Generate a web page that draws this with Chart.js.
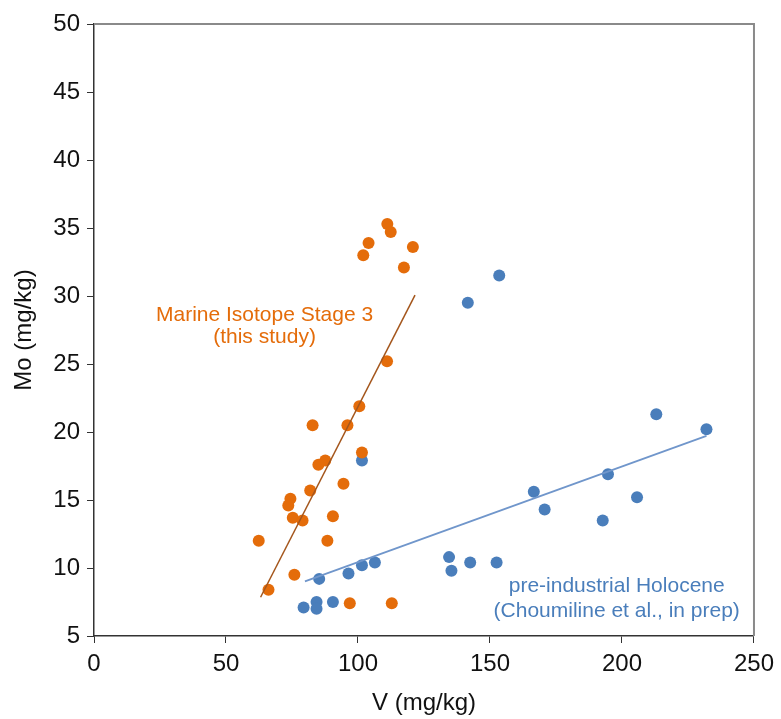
<!DOCTYPE html>
<html>
<head>
<meta charset="utf-8">
<script src="https://cdn.jsdelivr.net/npm/chart.js@4.4.0/dist/chart.umd.min.js"></script>
<style>
    body { margin: 0; background: #fff; }
    canvas { display: block; }
</style>
</head>
<body>
<canvas id="moV" width="781" height="719"></canvas>
<script>
// Marine Isotope Stage 3 samples (this study)
const marineV  = [82.8, 96.0, 101.5, 87.6, 85.0, 94.5, 81.9, 74.4, 73.6, 75.3, 79.0, 90.5, 62.4,
                  88.4, 75.9, 66.1, 96.9, 112.8, 111.1, 112.4, 104.0, 102.0, 120.8, 117.4, 111.0, 100.5];
const marineMo = [20.5, 20.5, 18.5, 17.9, 17.6, 16.2, 15.7, 15.1, 14.6, 13.7, 13.5, 13.8, 12.0,
                  12.0, 9.5, 8.4, 7.4, 7.4, 35.3, 34.7, 33.9, 33.0, 33.6, 32.1, 25.2, 21.9];

// pre-industrial Holocene samples
const holoceneV  = [101.5, 85.3, 96.4, 101.5, 106.4, 79.4, 84.3, 84.3, 90.5, 141.6, 153.5,
                    213.0, 232.0, 194.7, 205.7, 166.6, 170.7, 192.7, 134.5, 135.4, 142.5, 152.5];
const holoceneMo = [17.9, 9.2, 9.6, 10.2, 10.4, 7.1, 7.5, 7.0, 7.5, 29.5, 31.5,
                    21.3, 20.2, 16.9, 15.2, 15.6, 14.3, 13.5, 10.8, 9.8, 10.4, 10.4];

// linear fits (end points)
const marineFitV    = [63.1, 121.6];
const marineFitMo   = [7.85, 30.07];
const holoceneFitV  = [79.9, 232.0];
const holoceneFitMo = [9.02, 19.71];

const xTicks = [0, 50, 100, 150, 200, 250];
const yTicks = [5, 10, 15, 20, 25, 30, 35, 40, 45, 50];

const ORANGE = '#E46C0A';
const BLUE = '#4A7EBB';
const FONT = '"Liberation Sans", Arial, sans-serif';

const toPoints = (xs, ys) => xs.map((x, i) => ({x: x, y: ys[i]}));

// series labels, anchored in data units
const notes = [
    {x: 64.6, y: 28.6, text: 'Marine Isotope Stage 3', color: ORANGE},
    {x: 64.6, y: 26.95, text: '(this study)', color: ORANGE},
    {x: 198.0, y: 8.63, text: 'pre-industrial Holocene', color: BLUE},
    {x: 198.0, y: 6.86, text: '(Choumiline et al., in prep)', color: BLUE}
];

const frameAndNotes = {
    id: 'frameAndNotes',
    beforeDraw(chart) {
        const {ctx} = chart;
        ctx.save();
        ctx.fillStyle = '#fff';
        ctx.fillRect(0, 0, chart.width, chart.height);
        ctx.restore();
    },
    beforeDatasetsDraw(chart) {
        const {ctx, chartArea: a} = chart;
        ctx.save();
        ctx.strokeStyle = '#8a8a8a';
        ctx.lineWidth = 2;
        ctx.beginPath();
        ctx.moveTo(a.left, a.top);
        ctx.lineTo(a.right, a.top);
        ctx.lineTo(a.right, a.bottom);
        ctx.stroke();
        ctx.restore();
    },
    afterDatasetsDraw(chart) {
        const {ctx, scales} = chart;
        ctx.save();
        ctx.font = '21px ' + FONT;
        ctx.textAlign = 'center';
        ctx.textBaseline = 'middle';
        notes.forEach(n => {
            ctx.fillStyle = n.color;
            ctx.fillText(n.text, scales.x.getPixelForValue(n.x), scales.y.getPixelForValue(n.y));
        });
        ctx.restore();
    }
};

new Chart(document.getElementById('moV').getContext('2d'), {
    type: 'scatter',
    data: {
        datasets: [
            {
                type: 'line',
                data: toPoints(marineFitV, marineFitMo),
                borderColor: '#A4561C',
                borderWidth: 1.5,
                pointRadius: 0,
                fill: false
            },
            {
                type: 'line',
                data: toPoints(holoceneFitV, holoceneFitMo),
                borderColor: '#7096CB',
                borderWidth: 1.8,
                pointRadius: 0,
                fill: false
            },
            {
                data: toPoints(marineV, marineMo),
                backgroundColor: ORANGE,
                borderWidth: 0,
                pointRadius: 6
            },
            {
                data: toPoints(holoceneV, holoceneMo),
                backgroundColor: BLUE,
                borderWidth: 0,
                pointRadius: 6
            }
        ]
    },
    options: {
        responsive: false,
        animation: false,
        layout: {padding: {top: 24, right: 25, left: 0, bottom: 0}},
        plugins: {
            legend: {display: false},
            tooltip: {enabled: false}
        },
        scales: {
            x: {
                type: 'linear',
                min: 0,
                max: 250,
                afterBuildTicks: s => { s.ticks = xTicks.map(v => ({value: v})); },
                afterFit: s => { s.height = 83; },
                grid: {drawOnChartArea: false, tickLength: 7, color: '#333', lineWidth: 1},
                border: {color: '#333', width: 1.5},
                ticks: {color: '#111', padding: 7, font: {family: FONT, size: 24}},
                title: {
                    display: true,
                    text: 'V (mg/kg)',
                    color: '#111',
                    font: {family: FONT, size: 24},
                    padding: {top: 0, bottom: 1}
                }
            },
            y: {
                min: 5,
                max: 50,
                afterBuildTicks: s => { s.ticks = yTicks.map(v => ({value: v})); },
                afterFit: s => { s.width = 94; },
                grid: {drawOnChartArea: false, tickLength: 7, color: '#333', lineWidth: 1},
                border: {color: '#333', width: 1.5},
                ticks: {color: '#111', padding: 7, font: {family: FONT, size: 24}},
                title: {
                    display: true,
                    text: 'Mo (mg/kg)',
                    color: '#111',
                    font: {family: FONT, size: 24},
                    padding: {top: 10, bottom: 0}
                }
            }
        }
    },
    plugins: [frameAndNotes]
});
</script>
</body>
</html>
